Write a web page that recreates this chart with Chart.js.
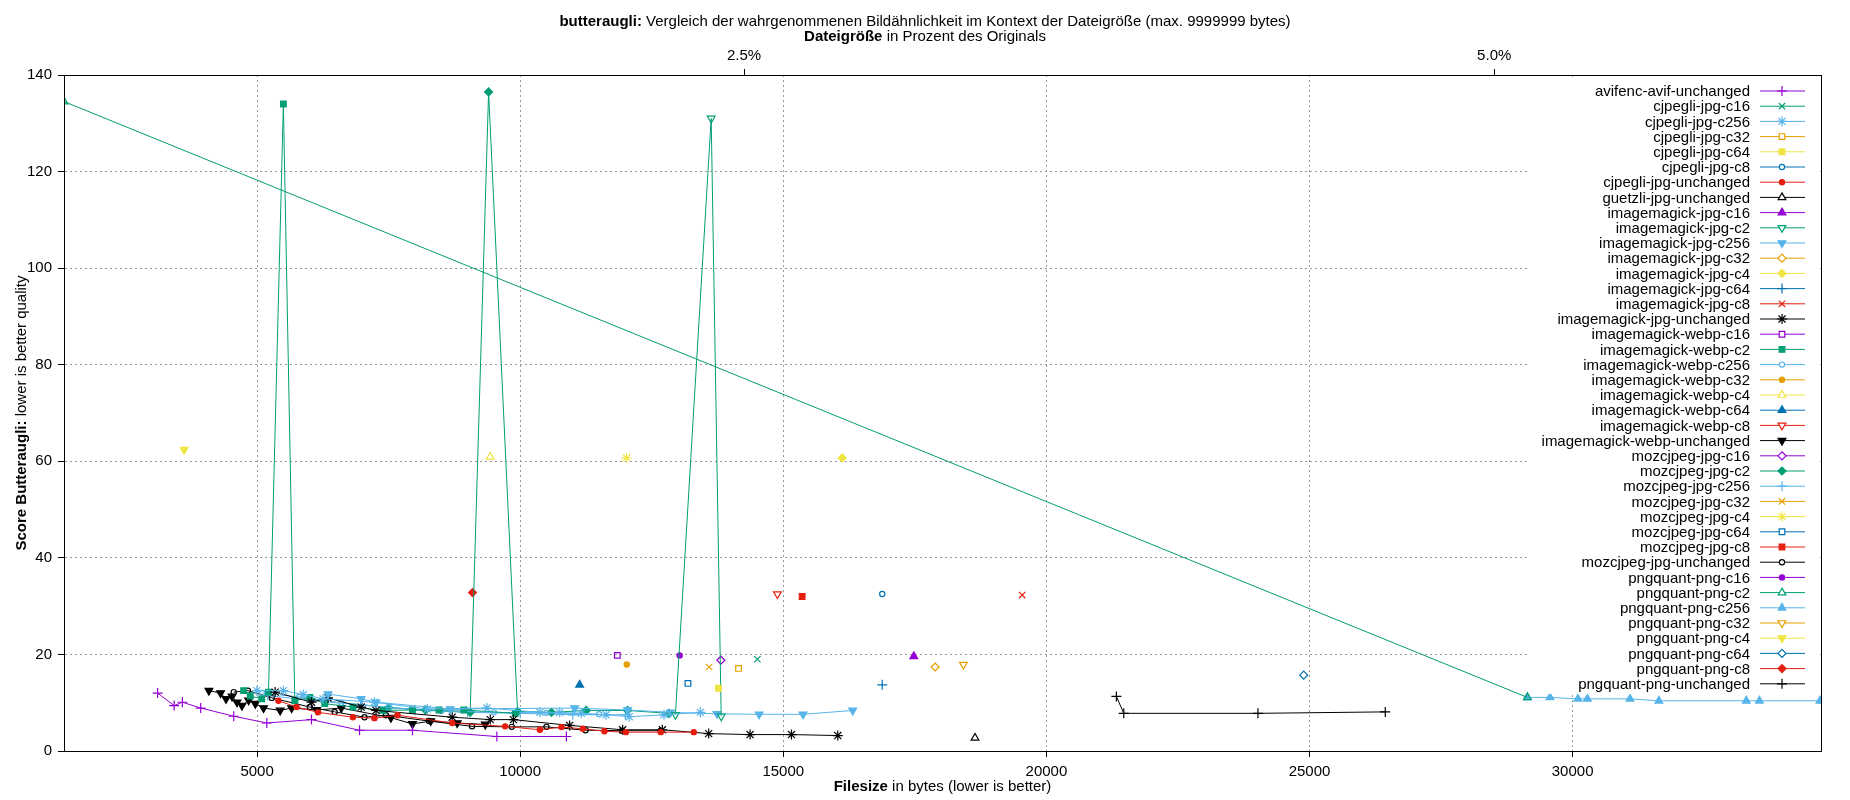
<!DOCTYPE html>
<html><head><meta charset="utf-8">
<script src="https://cdn.jsdelivr.net/npm/chart.js@4/dist/chart.umd.min.js"></script>
<style>
body{margin:0;background:#fff;font-family:"Liberation Sans",Arial,sans-serif;}
#wrap{position:relative;width:1850px;height:800px;}
.t{position:absolute;font-size:15px;color:#000;white-space:nowrap;}
</style></head><body>
<div id="wrap">
<canvas id="c" width="1850" height="800"></canvas>
<div class="t" style="left:0;width:1850px;text-align:center;top:12px"><b>butteraugli:</b> Vergleich der wahrgenommenen Bildähnlichkeit im Kontext der Dateigröße (max. 9999999 bytes)</div>
<div class="t" style="left:0;width:1850px;text-align:center;top:27px"><b>Dateigröße</b> in Prozent des Originals</div>
<div class="t" style="left:64px;width:1757px;text-align:center;top:777px"><b>Filesize</b> in bytes (lower is better)</div>
<div class="t" style="left:-130px;top:405px;width:300px;text-align:center;transform:rotate(-90deg);transform-origin:150px 8px"><b>Score Butteraugli:</b> lower is better quality</div>
</div>
<script>
const xTicks=[5000,10000,15000,20000,25000,30000];
const yTicks=[0,20,40,60,80,100,120,140];
const pctTicks=[2.5,5.0];
const originalSize=570200;

const avifUnchanged=[[3110,12.0],[3424,9.4],[3581,10.1],[3929,8.9],[4556,7.2],[5185,5.8],[6034,6.5],[6947,4.3],[7953,4.3],[9557,3.0],[10878,3.0]];
const cjpegliC16=[[14508,19.0]];
const cjpegliC256=[[4996,12.5],[5500,12.5],[5877,11.7],[6255,10.8],[7230,10.1],[8236,8.7],[9368,8.9],[10374,8.0],[10752,8.0],[11160,7.8],[11632,7.5],[12072,7.1],[12733,7.5],[13424,8.0]];
const cjpegliC32=[[14150,17.1]];
const cjpegliC64=[[13770,13.0]];
const cjpegliC8=[[16880,32.5]];
const cjpegliUnchanged=[[5406,10.4],[5751,9.1],[6160,8.0],[6821,7.0],[7230,6.8],[7670,7.4],[8708,5.8],[9714,5.1],[10374,4.4],[10784,4.95],[11193,4.6],[11601,4.1],[12010,3.9],[12671,3.9],[13299,3.9]];
const guetzliUnchanged=[[18644,2.7]];
const imJpgC16=[[17480,19.6]];
const imJpgC2=[[12950,7.5],[13630,131],[13820,7.2]];
const imJpgC256=[[6349,11.8],[6978,10.8],[7261,10.1],[8670,8.7],[11035,8.9],[12041,8.5],[12859,8.0],[13740,7.7],[14541,7.6],[15375,7.6],[16319,8.4]];
const imJpgC32=[[17886,17.4]];
const imJpgC4=[[16120,60.7]];
const imJpgC64=[[16880,13.7]];
const imJpgC8=[[19540,32.3]];
const imJpgUnchanged=[[5343,12.2],[6034,10.1],[6349,11.0],[6978,9.1],[7261,8.4],[8708,7.0],[9431,6.5],[9872,6.5],[10940,5.3],[11947,4.4],[12702,4.4],[13582,3.6],[14369,3.4],[15156,3.4],[16036,3.2]];
const imWebpC16=[[11846,19.8]];
const imWebpC2=[[4745,12.5],[4871,11.4],[5090,10.8],[5217,12.2],[5500,134],[5717,10.4],[6003,11.1],[6286,9.8],[6821,9.1],[7388,8.4],[7953,8.5],[8457,8.5],[8929,8.5],[9906,7.8]];
const imWebpC256=[[5100,12.0],[5800,11.2],[6600,10.0],[7500,9.0],[8500,8.3],[9500,8.0],[10500,7.9],[11500,7.6]];
const imWebpC32=[[12025,17.9]];
const imWebpC4=[[9430,60.9]];
const imWebpC64=[[11130,13.7]];
const imWebpC8=[[14888,32.5]];
const imWebpUnchanged=[[4085,12.5],[4306,12.0],[4411,10.8],[4524,11.3],[4619,10.1],[4713,9.4],[4840,10.5],[4966,9.8],[5123,8.9],[5438,8.4],[5657,8.9],[6129,8.5],[6600,8.9],[7544,6.9],[7953,5.6],[8299,6.2],[8802,5.8],[9337,5.5]];
const mozC16=[[13814,18.8]];
const mozC2=[[7500,9.0],[8200,8.5],[9050,8.0],[9400,136.5],[9950,8.2],[10594,8.0],[11255,8.4],[12041,8.4],[12828,7.8]];
const mozC256=[[5200,11.5],[6000,10.5],[7000,9.5],[8000,8.5],[9000,8.0],[10000,7.8],[11000,7.5],[12000,7.5]];
const mozC32=[[13591,17.4]];
const mozC4=[[12020,60.7]];
const mozC64=[[13188,14.0]];
const mozC8=[[15358,32.0]];
const mozUnchanged=[[4556,12.2],[4827,12.5],[5280,11.0],[6003,9.1],[6475,8.1],[7041,7.0],[7449,7.4],[8268,6.2],[9085,5.1],[9840,5.0],[10500,5.0],[11243,4.3],[11937,4.2],[12671,4.2]];
const pngC16=[[13031,19.8]];
const pngC2=[[1331,134.5],[29140,11.1]];
const pngC256=[[29140,11.1],[29570,11.1],[30100,10.8],[30280,10.8],[31090,10.8],[31640,10.4],[33300,10.4],[33550,10.4],[34700,10.4]];
const pngC32=[[18423,17.9]];
const pngC4=[[3613,62.4]];
const pngC64=[[24890,15.7]];
const pngC8=[[9094,32.8]];
const pngUnchanged=[[21330,11.3],[21470,7.8],[24020,7.8],[26440,8.1]];

const PU='#9400d3',GR='#009e73',LB='#56b4e9',OR='#e69f00',YE='#f0e442',BL='#0072b2',RE='#e51e10',BK='#000000';
const defs=[
['avifenc-avif-unchanged',avifUnchanged,PU,'cross',0,0],
['cjpegli-jpg-c16',cjpegliC16,GR,'crossRot',0,0],
['cjpegli-jpg-c256',cjpegliC256,LB,'star',0,0],
['cjpegli-jpg-c32',cjpegliC32,OR,'rect',0,0],
['cjpegli-jpg-c64',cjpegliC64,YE,'rect',1,0],
['cjpegli-jpg-c8',cjpegliC8,BL,'circle',0,0],
['cjpegli-jpg-unchanged',cjpegliUnchanged,RE,'circle',1,0],
['guetzli-jpg-unchanged',guetzliUnchanged,BK,'triangle',0,0],
['imagemagick-jpg-c16',imJpgC16,PU,'triangle',1,0],
['imagemagick-jpg-c2',imJpgC2,GR,'triangle',0,180],
['imagemagick-jpg-c256',imJpgC256,LB,'triangle',1,180],
['imagemagick-jpg-c32',imJpgC32,OR,'rectRot',0,0],
['imagemagick-jpg-c4',imJpgC4,YE,'rectRot',1,0],
['imagemagick-jpg-c64',imJpgC64,BL,'cross',0,0],
['imagemagick-jpg-c8',imJpgC8,RE,'crossRot',0,0],
['imagemagick-jpg-unchanged',imJpgUnchanged,BK,'star',0,0],
['imagemagick-webp-c16',imWebpC16,PU,'rect',0,0],
['imagemagick-webp-c2',imWebpC2,GR,'rect',1,0],
['imagemagick-webp-c256',imWebpC256,LB,'circle',0,0],
['imagemagick-webp-c32',imWebpC32,OR,'circle',1,0],
['imagemagick-webp-c4',imWebpC4,YE,'triangle',0,0],
['imagemagick-webp-c64',imWebpC64,BL,'triangle',1,0],
['imagemagick-webp-c8',imWebpC8,RE,'triangle',0,180],
['imagemagick-webp-unchanged',imWebpUnchanged,BK,'triangle',1,180],
['mozcjpeg-jpg-c16',mozC16,PU,'rectRot',0,0],
['mozcjpeg-jpg-c2',mozC2,GR,'rectRot',1,0],
['mozcjpeg-jpg-c256',mozC256,LB,'cross',0,0],
['mozcjpeg-jpg-c32',mozC32,OR,'crossRot',0,0],
['mozcjpeg-jpg-c4',mozC4,YE,'star',0,0],
['mozcjpeg-jpg-c64',mozC64,BL,'rect',0,0],
['mozcjpeg-jpg-c8',mozC8,RE,'rect',1,0],
['mozcjpeg-jpg-unchanged',mozUnchanged,BK,'circle',0,0],
['pngquant-png-c16',pngC16,PU,'circle',1,0],
['pngquant-png-c2',pngC2,GR,'triangle',0,0],
['pngquant-png-c256',pngC256,LB,'triangle',1,0],
['pngquant-png-c32',pngC32,OR,'triangle',0,180],
['pngquant-png-c4',pngC4,YE,'triangle',1,180],
['pngquant-png-c64',pngC64,BL,'rectRot',0,0],
['pngquant-png-c8',pngC8,RE,'rectRot',1,0],
['pngquant-png-unchanged',pngUnchanged,BK,'cross',0,0]
];
const RAD={circle:2.6,cross:5,crossRot:4.5,star:5,rect:4,rectRot:4,triangle:4.5};
const datasets=defs.map(d=>({label:d[0],data:d[1].map(p=>({x:p[0],y:p[1]})),borderColor:d[2],
 backgroundColor:d[4]?d[2]:'rgba(255,255,255,0)',pointStyle:d[3],pointRotation:d[5],pointRadius:RAD[d[3]],
 pointBorderWidth:1.2,borderWidth:1,showLine:true,xAxisID:'x',yAxisID:'y'}));
datasets.push({label:'_top',data:[],xAxisID:'x2',yAxisID:'y'});

const FONT={family:'"Liberation Sans", Arial, sans-serif',size:15};
const legendPlugin={id:'lg',afterDatasetsDraw(chart){
 const ctx=chart.ctx;const x0=1530,y0=80,row=15.2;
 ctx.save();ctx.fillStyle='#fff';ctx.fillRect(x0,y0,1820-x0,row*defs.length+6);
 ctx.font='15px "Liberation Sans", Arial, sans-serif';ctx.textAlign='right';ctx.textBaseline='middle';
 defs.forEach((d,i)=>{const y=91+i*row;ctx.fillStyle='#000';ctx.fillText(d[0],1750,y+1);
  ctx.strokeStyle=d[2];ctx.lineWidth=1;ctx.beginPath();ctx.moveTo(1760,y);ctx.lineTo(1805,y);ctx.stroke();
  ctx.fillStyle=d[4]?d[2]:'#fff';ctx.lineWidth=1.2;
  Chart.helpers.drawPoint(ctx,{pointStyle:d[3],rotation:d[5],radius:RAD[d[3]],borderWidth:1.2},1782,y);});
 ctx.restore();
 const a=chart.chartArea;ctx.save();ctx.strokeStyle='#000';ctx.lineWidth=1;ctx.strokeRect(a.left+0.5,a.top+0.5,a.right-a.left,a.bottom-a.top);ctx.restore();
}};

new Chart(document.getElementById('c'),{type:'scatter',data:{datasets},
options:{responsive:false,animation:false,events:[],
 layout:{padding:{left:0,right:29,top:0,bottom:0}},
 plugins:{legend:{display:false},tooltip:{enabled:false}},
 scales:{
  x:{type:'linear',position:'bottom',min:1331,max:34720,
   afterBuildTicks:s=>{s.ticks=xTicks.map(v=>({value:v}));},
   afterFit:s=>{s.height=49;},
   ticks:{font:FONT,color:'#000',padding:6,maxRotation:0,callback:v=>String(v)},
   grid:{color:'#999',lineWidth:1,tickLength:6,tickColor:'#000',drawTicks:true},border:{dash:[2,3],display:true,color:'#000'}},
  x2:{type:'linear',position:'top',min:1331,max:34720,
   afterBuildTicks:s=>{s.ticks=pctTicks.map(p=>({value:originalSize*p/100}));},
   afterFit:s=>{s.height=75;},
   ticks:{font:FONT,color:'#000',padding:4,maxRotation:0,callback:v=>(v/originalSize*100).toFixed(1)+'%'},
   grid:{display:true,drawOnChartArea:false,tickLength:6,tickColor:'#000'},border:{color:'#000'}},
  y:{type:'linear',min:0,max:140,
   afterBuildTicks:s=>{s.ticks=yTicks.map(v=>({value:v}));},
   afterFit:s=>{s.width=64;},
   ticks:{font:FONT,color:'#000',padding:6},
   grid:{color:'#999',tickLength:6,tickColor:'#000'},border:{dash:[2,3],color:'#000'}}
 }},plugins:[legendPlugin]});
</script></body></html>
